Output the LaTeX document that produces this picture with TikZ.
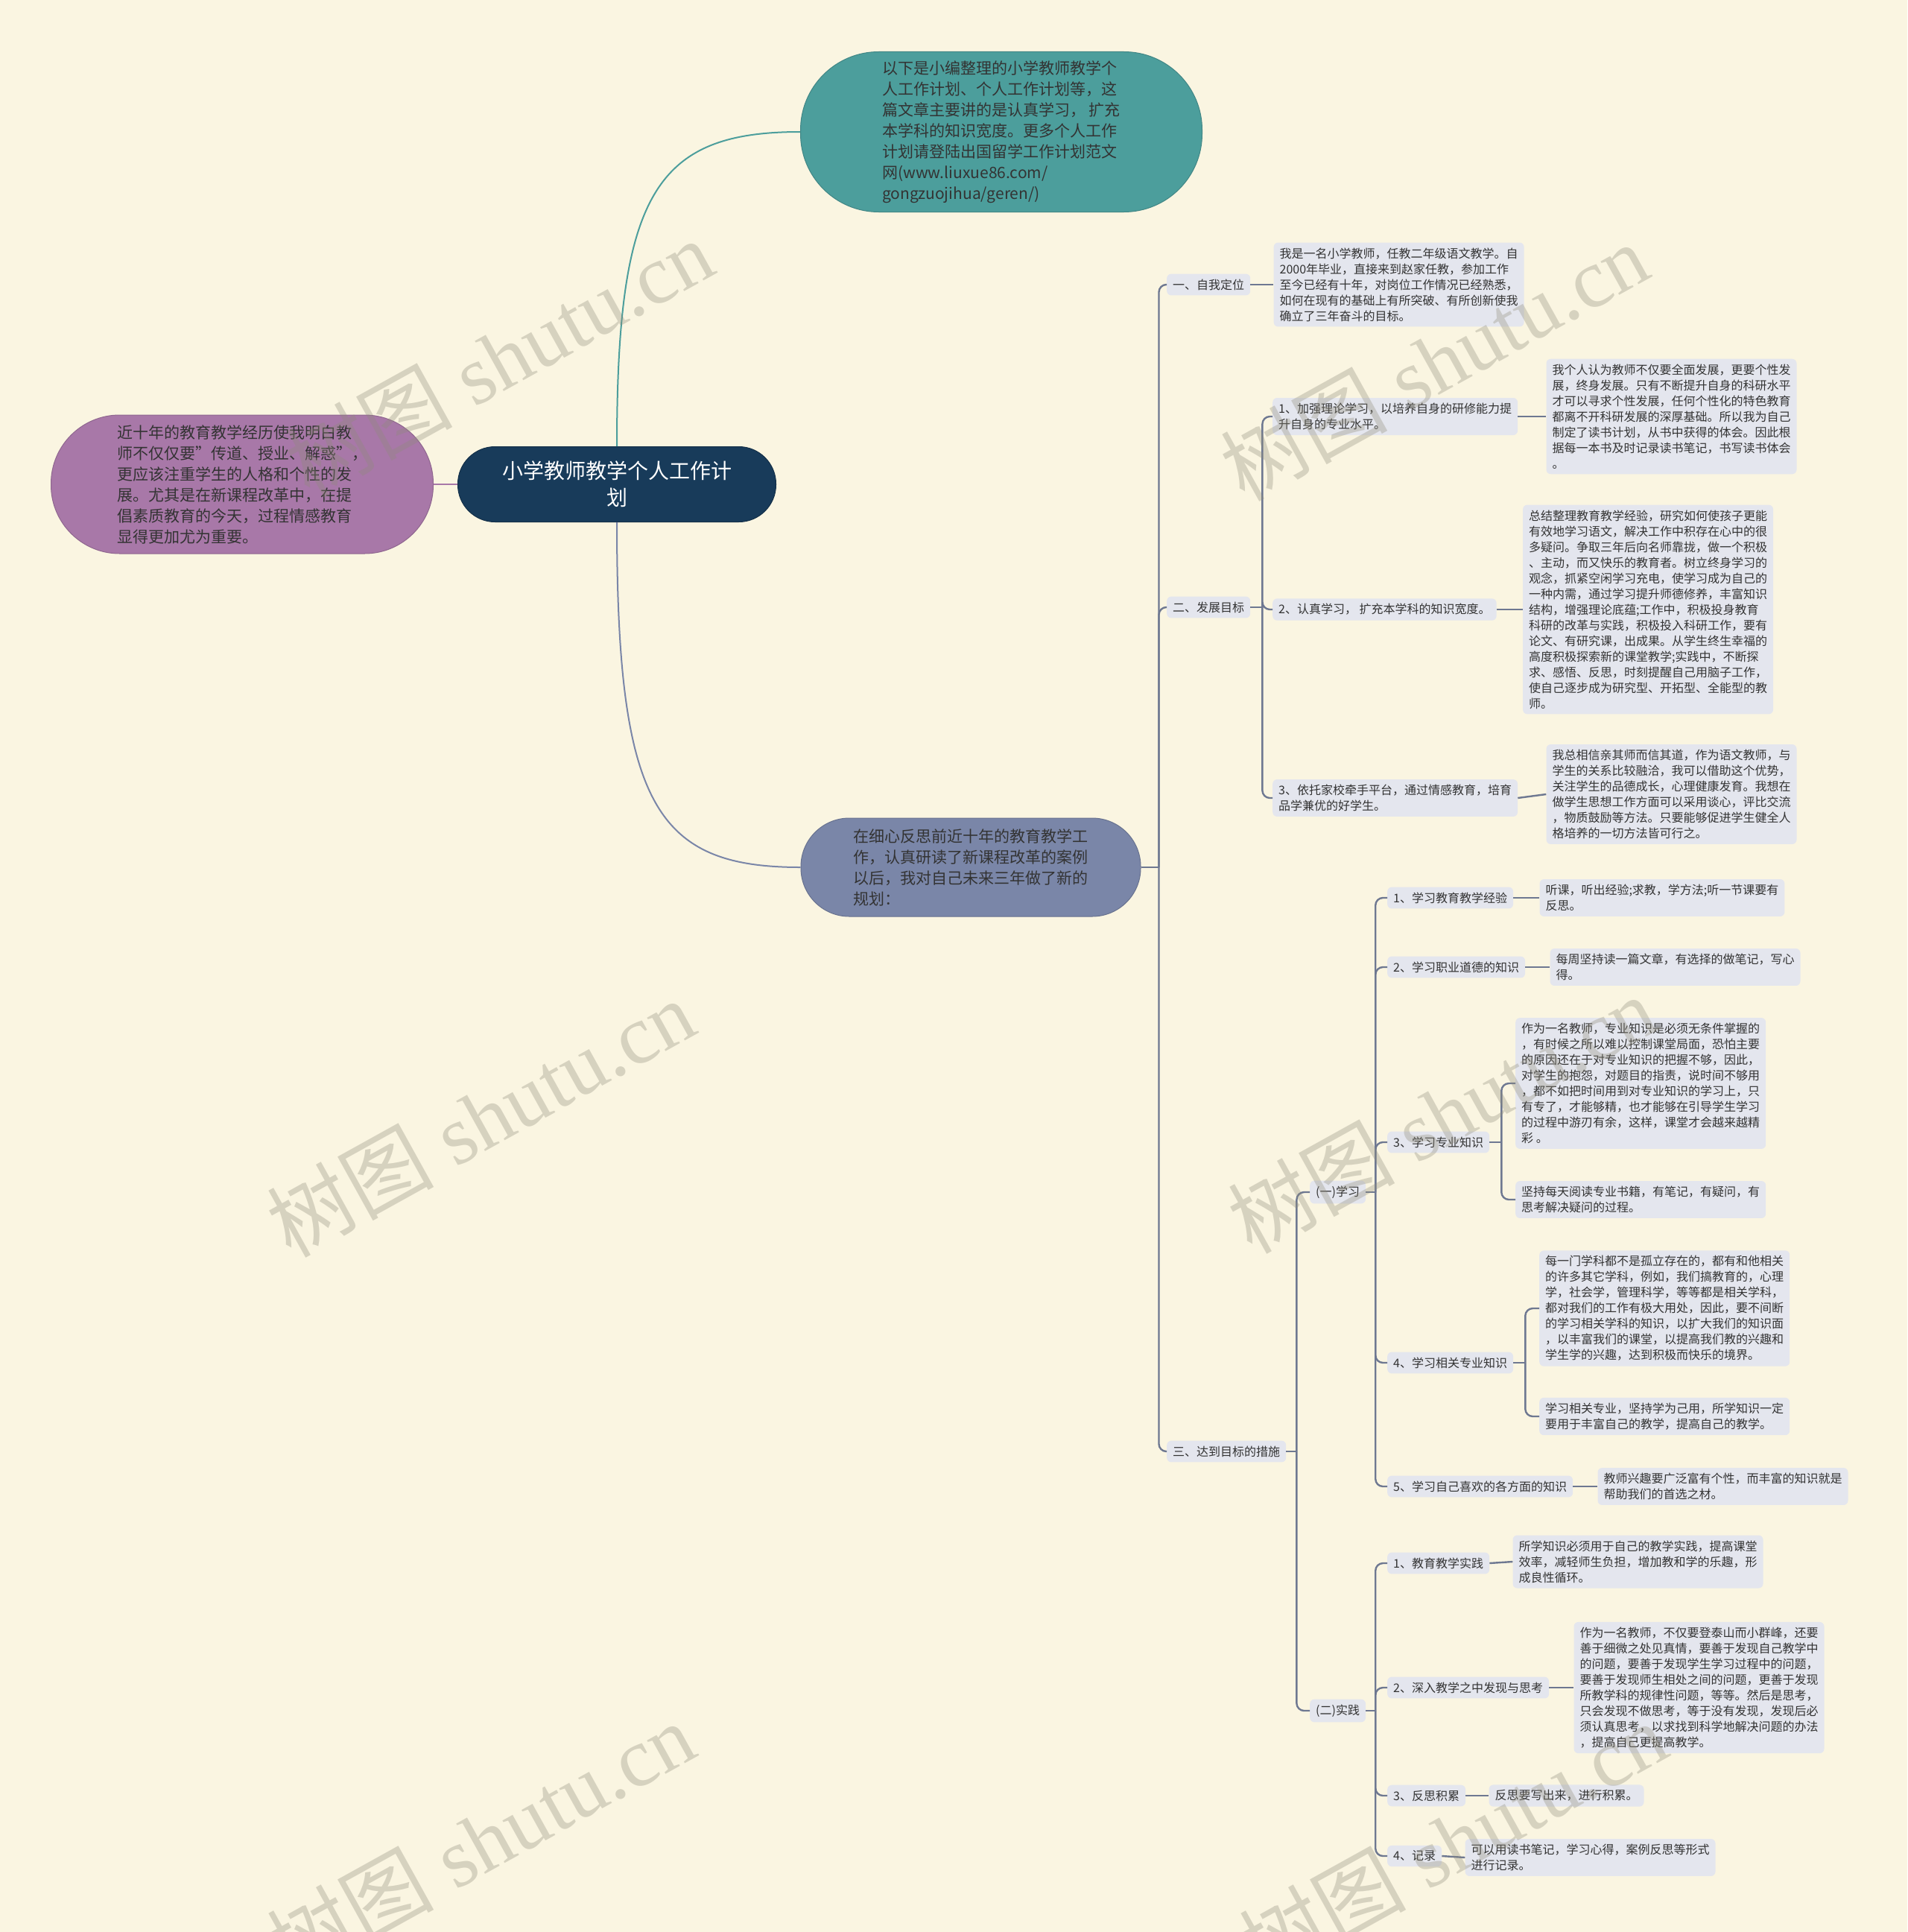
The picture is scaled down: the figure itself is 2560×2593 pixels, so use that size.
\documentclass[tikz,border=0pt]{standalone}
\usepackage{fontspec}
\setmainfont{Noto Sans CJK SC}
\newfontfamily\wmfont{Liberation Serif}
\usetikzlibrary{calc}
\definecolor{bgc}{HTML}{FAF5E1}
\definecolor{tealc}{HTML}{4C9E9C}
\definecolor{purc}{HTML}{A878A8}
\definecolor{navyc}{HTML}{183B5A}
\definecolor{slatec}{HTML}{7A86A8}
\definecolor{boxc}{HTML}{E4E6EE}
\definecolor{linec}{HTML}{6E7891}
\definecolor{txtc}{HTML}{333333}
\definecolor{wmc}{HTML}{8F8B7A}
\begin{document}
\begin{tikzpicture}[x=1pt,y=-1pt,
  box/.style={fill=boxc, rounded corners=6pt, inner xsep=8pt, inner ysep=7pt, align=left,
    font=\fontsize{16}{21}\selectfont, text=txtc, anchor=west},
  big/.style={align=left, font=\fontsize{21}{28}\selectfont, text=txtc, line width=1pt},
  conn/.style={draw=linec, line width=2.4pt, rounded corners=10pt},
  wm/.style={text=wmc, text opacity=0.33, rotate=29, font=\fontsize{112}{116}\selectfont}
]
\fill[bgc] (0,0) rectangle (2560,2593);
\useasboundingbox (0,0) rectangle (2560,2593);

% main nodes
\node[fill=navyc, draw=navyc!80!black, rounded corners=50pt, minimum width=427pt, minimum height=101pt,
  align=center, text=white, font=\fontsize{28}{36}\selectfont, line width=1pt] (root) at (828,650)
  {小学教师教学个人工作计\\划};
\node[big, fill=tealc, draw=tealc!85!black, rounded corners=105pt, minimum width=539pt, minimum height=215pt] (intro) at (1344,177)
  {以下是小编整理的小学教师教学个\\人工作计划、个人工作计划等，这\\篇文章主要讲的是认真学习， 扩充\\本学科的知识宽度。更多个人工作\\计划请登陆出国留学工作计划范文\\网(www.liuxue86.com/\\gongzuojihua/geren/)};
\node[big, fill=purc, draw=purc!85!black, rounded corners=92pt, minimum width=513pt, minimum height=186pt] (exp) at (325,650)
  {近十年的教育教学经历使我明白教\\师不仅仅要"传道、授业、解惑"，\\更应该注重学生的人格和个性的发\\展。尤其是在新课程改革中，在提\\倡素质教育的今天，过程情感教育\\显得更加尤为重要。};
\node[big, fill=slatec, draw=slatec!85!black, rounded corners=65pt, minimum width=456pt, minimum height=132pt] (plan) at (1303,1164)
  {在细心反思前近十年的教育教学工\\作，认真研读了新课程改革的案例\\以后，我对自己未来三年做了新的\\规划：};

\draw[draw=tealc, line width=2pt] (root.north) .. controls (828,260) and (880,177) .. (intro.west);
\draw[draw=slatec, line width=2pt] (root.south) .. controls (828,1080) and (880,1164) .. (plan.west);
\draw[draw=purc, line width=2pt] (root.west) -- (exp.east);

% level 1
\node[box] (l1a) at (1566,382) {一、自我定位};
\node[box] (l1b) at (1566,815) {二、发展目标};
\node[box] (l1c) at (1566,1948) {三、达到目标的措施};

\node[box] (la) at ($(l1a.east)+(31,0)$) {我是一名小学教师，任教二年级语文教学。自\\2000年毕业，直接来到赵家任教，参加工作\\至今已经有十年，对岗位工作情况已经熟悉，\\如何在现有的基础上有所突破、有所创新使我\\确立了三年奋斗的目标。};

% goals
\node[box] (g1) at (1708,559) {1、加强理论学习，以培养自身的研修能力提\\升自身的专业水平。};
\node[box] (g1l) at ($(g1.east)+(38,0)$) {我个人认为教师不仅要全面发展，更要个性发\\展，终身发展。只有不断提升自身的科研水平\\才可以寻求个性发展，任何个性化的特色教育\\都离不开科研发展的深厚基础。所以我为自己\\制定了读书计划，从书中获得的体会。因此根\\据每一本书及时记录读书笔记，书写读书体会\\。};
\node[box] (g2) at (1708,818) {2、认真学习， 扩充本学科的知识宽度。};
\node[box] (g2l) at ($(g2.east)+(35,0)$) {总结整理教育教学经验，研究如何使孩子更能\\有效地学习语文，解决工作中积存在心中的很\\多疑问。争取三年后向名师靠拢，做一个积极\\、主动，而又快乐的教育者。树立终身学习的\\观念，抓紧空闲学习充电，使学习成为自己的\\一种内需，通过学习提升师德修养，丰富知识\\结构，增强理论底蕴;工作中，积极投身教育\\科研的改革与实践，积极投入科研工作，要有\\论文、有研究课，出成果。从学生终生幸福的\\高度积极探索新的课堂教学;实践中，不断探\\求、感悟、反思，时刻提醒自己用脑子工作，\\使自己逐步成为研究型、开拓型、全能型的教\\师。};
\node[box] (g3) at (1708,1071) {3、依托家校牵手平台，通过情感教育，培育\\品学兼优的好学生。};
\node[box] (g3l) at ($(g3.east)+(38,-5)$) {我总相信亲其师而信其道，作为语文教师，与\\学生的关系比较融洽，我可以借助这个优势，\\关注学生的品德成长，心理健康发育。我想在\\做学生思想工作方面可以采用谈心，评比交流\\，物质鼓励等方法。只要能够促进学生健全人\\格培养的一切方法皆可行之。};

% measures
\node[box] (s1) at (1758,1600) {(一)学习};
\node[box] (s2) at (1758,2296) {(二)实践};

\node[box] (a1) at (1862,1205) {1、学习教育教学经验};
\node[box] (a1l) at ($(a1.east)+(35,0)$) {听课，听出经验;求教，学方法;听一节课要有\\反思。};
\node[box] (a2) at (1862,1298) {2、学习职业道德的知识};
\node[box] (a2l) at ($(a2.east)+(33,0)$) {每周坚持读一篇文章，有选择的做笔记，写心\\得。};
\node[box] (a3) at (1862,1533) {3、学习专业知识};
\node[box] (a3x) at (2034,1454) {作为一名教师，专业知识是必须无条件掌握的\\，有时候之所以难以控制课堂局面，恐怕主要\\的原因还在于对专业知识的把握不够，因此，\\对学生的抱怨，对题目的指责，说时间不够用\\，都不如把时间用到对专业知识的学习上，只\\有专了，才能够精，也才能够在引导学生学习\\的过程中游刃有余，这样，课堂才会越来越精\\彩 。};
\node[box] (a3y) at (2034,1610) {坚持每天阅读专业书籍，有笔记，有疑问，有\\思考解决疑问的过程。};
\node[box] (a4) at (1862,1829) {4、学习相关专业知识};
\node[box] (a4x) at (2066,1756) {每一门学科都不是孤立存在的，都有和他相关\\的许多其它学科，例如，我们搞教育的，心理\\学，社会学，管理科学，等等都是相关学科，\\都对我们的工作有极大用处，因此，要不间断\\的学习相关学科的知识，以扩大我们的知识面\\，以丰富我们的课堂，以提高我们教的兴趣和\\学生学的兴趣，达到积极而快乐的境界。};
\node[box] (a4y) at (2066,1901) {学习相关专业，坚持学为己用，所学知识一定\\要用于丰富自己的教学，提高自己的教学。};
\node[box] (a5) at (1862,1995) {5、学习自己喜欢的各方面的知识};
\node[box] (a5l) at ($(a5.east)+(33,0)$) {教师兴趣要广泛富有个性，而丰富的知识就是\\帮助我们的首选之材。};

\node[box] (b1) at (1862,2098) {1、教育教学实践};
\node[box] (b1l) at ($(b1.east)+(31,-2)$) {所学知识必须用于自己的教学实践，提高课堂\\效率，减轻师生负担，增加教和学的乐趣，形\\成良性循环。};
\node[box] (b2) at (1862,2265) {2、深入教学之中发现与思考};
\node[box] (b2l) at ($(b2.east)+(33,0)$) {作为一名教师，不仅要登泰山而小群峰，还要\\善于细微之处见真情，要善于发现自己教学中\\的问题，要善于发现学生学习过程中的问题，\\要善于发现师生相处之间的问题，更善于发现\\所教学科的规律性问题，等等。然后是思考，\\只会发现不做思考，等于没有发现，发现后必\\须认真思考，以求找到科学地解决问题的办法\\，提高自己更提高教学。};
\node[box] (b3) at (1862,2410) {3、反思积累};
\node[box] (b3l) at ($(b3.east)+(31,0)$) {反思要写出来，进行积累。};
\node[box] (b4) at (1862,2491) {4、记录};
\node[box] (b4l) at ($(b4.east)+(31,2)$) {可以用读书笔记，学习心得，案例反思等形式\\进行记录。};

% trunk junctions
\coordinate (t0) at ($(plan.east)+(24,0)$);
\coordinate (t1) at ($(l1b.east)+(16,0)$);
\coordinate (t3) at ($(l1c.east)+(14,0)$);
\coordinate (tS1) at ($(s1.east)+(13,0)$);
\coordinate (tS2) at ($(s2.east)+(13,0)$);
\coordinate (tA3) at ($(a3.east)+(16,0)$);
\coordinate (tA4) at ($(a4.east)+(16,0)$);

% connectors
\draw[conn] (plan.east) -- (t0);
\foreach \c in {l1a,l1b,l1c} \draw[conn] (t0) |- (\c.west);
\draw[conn] (l1a.east) -- (la.west);
\draw[conn] (l1b.east) -- (t1);
\foreach \c in {g1,g2,g3} \draw[conn] (t1) |- (\c.west);
\draw[conn] (g1.east) -- (g1l.west);
\draw[conn] (g2.east) -- (g2l.west);
\draw[conn] (g3.east) -- (g3l.west);
\draw[conn] (l1c.east) -- (t3);
\foreach \c in {s1,s2} \draw[conn] (t3) |- (\c.west);
\draw[conn] (s1.east) -- (tS1);
\foreach \c in {a1,a2,a3,a4,a5} \draw[conn] (tS1) |- (\c.west);
\draw[conn] (s2.east) -- (tS2);
\foreach \c in {b1,b2,b3,b4} \draw[conn] (tS2) |- (\c.west);
\draw[conn] (a1.east) -- (a1l.west);
\draw[conn] (a2.east) -- (a2l.west);
\draw[conn] (a3.east) -- (tA3);
\foreach \c in {a3x,a3y} \draw[conn] (tA3) |- (\c.west);
\draw[conn] (a4.east) -- (tA4);
\foreach \c in {a4x,a4y} \draw[conn] (tA4) |- (\c.west);
\draw[conn] (a5.east) -- (a5l.west);
\draw[conn] (b1.east) -- (b1l.west);
\draw[conn] (b2.east) -- (b2l.west);
\draw[conn] (b3.east) -- (b3l.west);
\draw[conn] (b4.east) -- (b4l.west);

% watermarks (on top, translucent)
\foreach \wx/\wy in {670/480, 1925/485, 645/1500, 1935/1495, 645/2470, 1950/2470}{
  \node[wm] at (\wx,\wy) {树图\hspace{0.25em}{\wmfont shutu.cn}};
}
\end{tikzpicture}
\end{document}
